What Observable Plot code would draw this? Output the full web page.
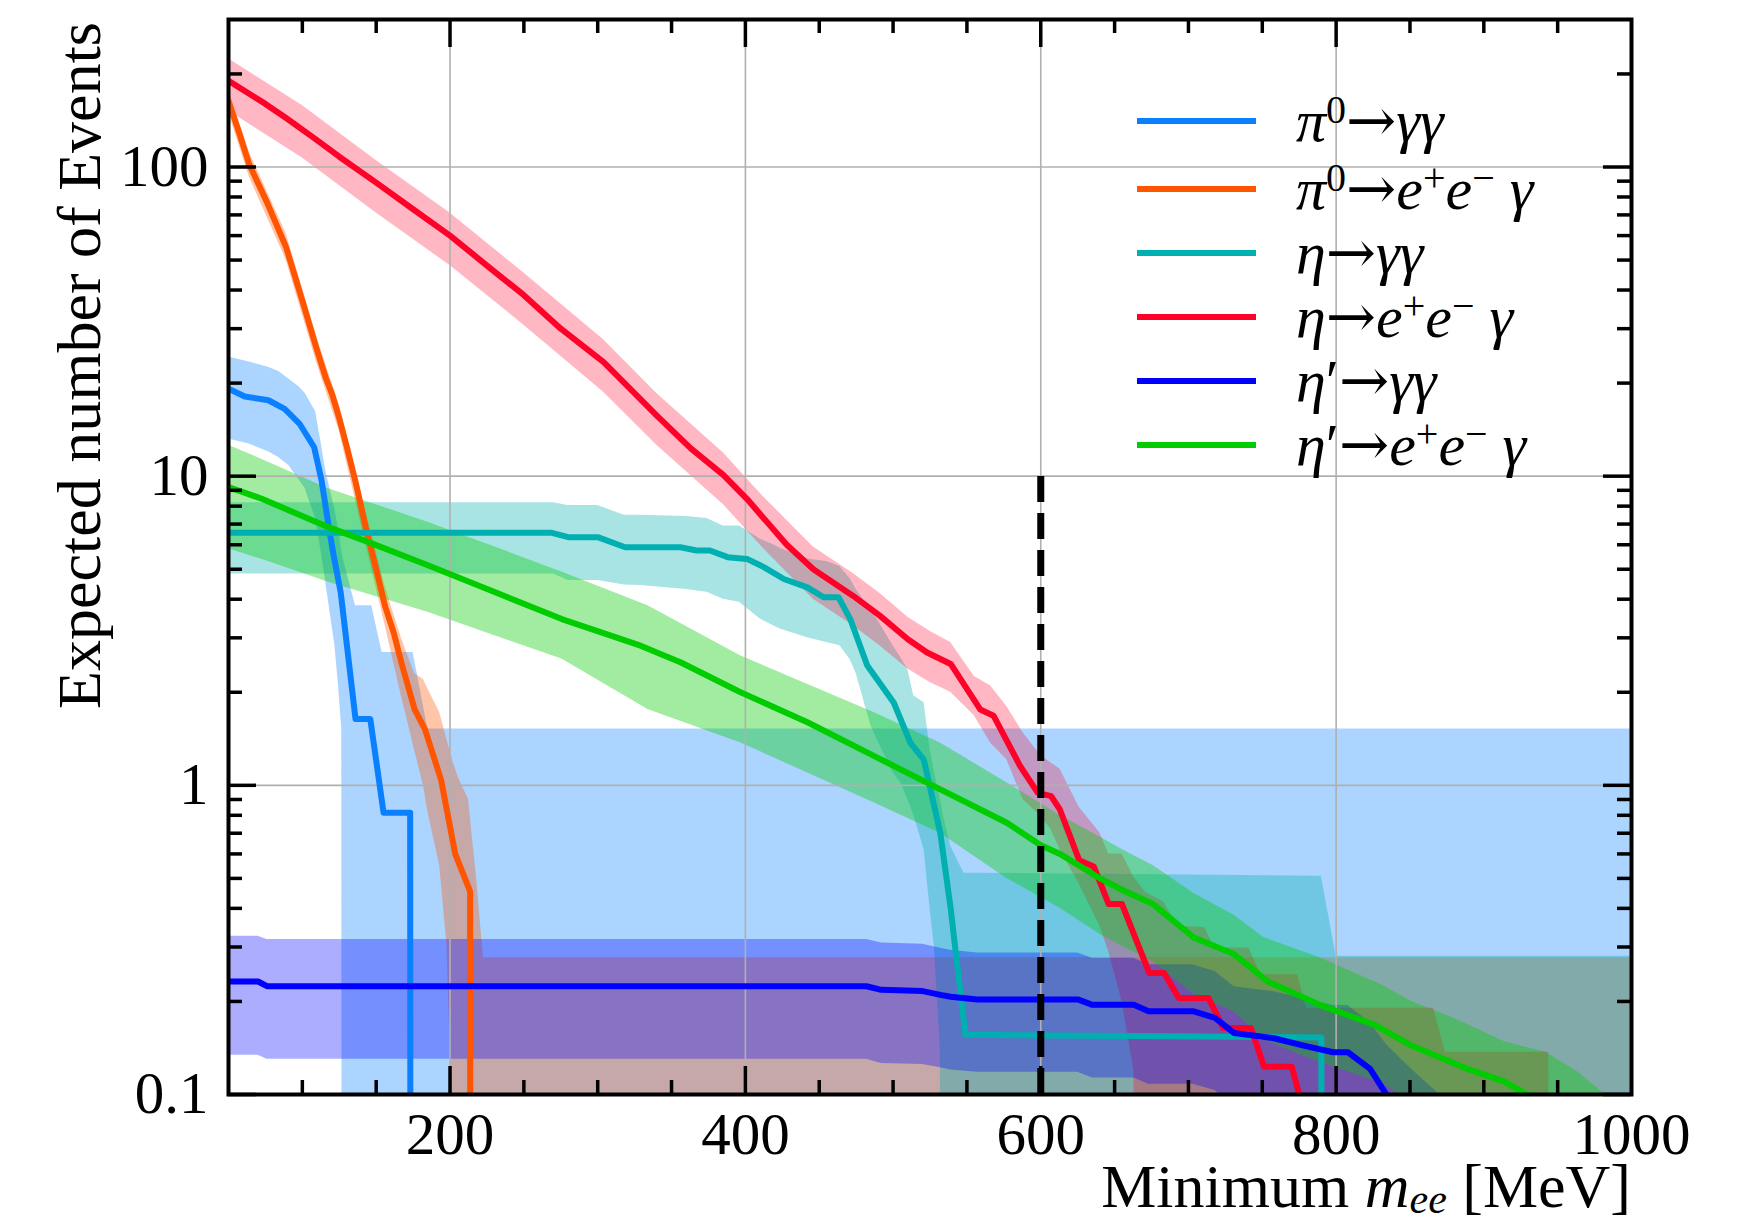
<!DOCTYPE html>
<html>
<head>
<meta charset="utf-8">
<script src="https://cdn.jsdelivr.net/npm/d3@7"></script>
<script src="https://cdn.jsdelivr.net/npm/@observablehq/plot@0.6"></script>
<style>
  html, body { margin: 0; padding: 0; background: #fff; }
  #chart { width: 1742px; height: 1224px; }
</style>
</head>
<body>
<div id="chart"></div>
<script>
// ---- Expected events vs. minimum m_ee cut (central value and uncertainty band per channel) ----

// pi0 -> gamma gamma
const pi0ggLineX = [50, 61, 77, 88, 98, 108, 113, 118, 121, 126, 136, 146, 155, 173, 173.5];
const pi0ggLineY = [19.2, 18.1, 17.6, 16.5, 14.8, 12.4, 9.7, 6.8, 5.6, 4.2, 1.64, 1.64, 0.815, 0.815, 0];
const pi0ggBandX = [50, 64, 77, 84, 91, 98, 102, 104, 109, 113, 115.5, 122, 124.5, 126.7, 127.2, 136, 147, 154, 175, 185, 1000];
const pi0ggBandLo = [13.2, 12.7, 12.0, 11.5, 10.8, 9.7, 9.1, 8.5, 7.3, 5.6, 4.65, 2.85, 2.1, 1.52, 0, 0, 0, 0, 0, 0, 0];
const pi0ggBandHi = [24.3, 23.4, 22.5, 21.8, 20.6, 19.4, 18.5, 17.8, 16.2, 12.6, 10.6, 7.8, 6.76, 5.7, 5.5, 3.81, 3.81, 2.69, 2.69, 1.52, 1.52];

// pi0 -> e+ e- gamma
const pi0eegLineX = [50, 57, 64, 76, 89, 100, 110, 116, 120, 125, 130, 136, 143, 150, 156, 162, 167, 176, 183, 194, 203.5, 213.6, 214];
const pi0eegLineY = [163, 130, 102, 77, 55, 37, 25.5, 20.7, 18.5, 15.4, 12.5, 9.6, 6.8, 5.0, 3.8, 3.1, 2.5, 1.76, 1.52, 1.04, 0.6, 0.454, 0];
const pi0eegBandX = [50, 64, 89, 110, 125, 143, 156, 167, 176, 182, 185, 193, 198, 201, 202, 206, 212.5, 218, 222.6, 1000];
const pi0eegBandLo = [150, 93, 50, 23, 14, 6.0, 3.3, 1.95, 1.3, 1.0, 0.82, 0.55, 0.3, 0.1, 0, 0, 0, 0, 0, 0];
const pi0eegBandHi = [178, 112, 61, 28, 17, 7.7, 4.4, 3.0, 2.3, 2.2, 2.05, 1.72, 1.4, 1.25, 1.19, 1.05, 0.9, 0.5, 0.277, 0.277];

// eta -> gamma gamma
const etaggLineX = [50, 269, 280, 300, 318.6, 356, 367, 376, 388, 401, 412.5, 426, 442, 453, 463, 471, 482.5, 500.5, 511.8, 520.8, 532, 539, 542, 549, 790, 790.5];
const etaggLineY = [6.56, 6.56, 6.35, 6.35, 5.89, 5.89, 5.75, 5.75, 5.47, 5.4, 5.08, 4.65, 4.37, 4.06, 4.06, 3.45, 2.44, 1.85, 1.37, 1.21, 0.70, 0.40, 0.30, 0.156, 0.153, 0];
const etaggBandX = [50, 270, 280, 300, 318, 329, 360, 374, 385, 396, 410, 419, 424, 442, 455, 464, 471, 475, 485, 490, 500, 505, 510, 514, 521, 525, 528, 532, 534, 539, 548, 790, 800, 1000];
const etaggBandLo = [4.83, 4.83, 4.6, 4.6, 4.45, 4.43, 4.3, 4.21, 4.0, 3.91, 3.45, 3.28, 3.2, 3.0, 2.9, 2.83, 2.55, 2.3, 1.56, 1.38, 1.1, 1.02, 0.9, 0.8, 0.62, 0.40, 0.30, 0.14, 0, 0, 0, 0, 0, 0];
const etaggBandHi = [8.2, 8.2, 8.04, 8.04, 7.47, 7.47, 7.4, 7.3, 6.9, 6.9, 6.26, 6.0, 5.83, 5.4, 5.3, 5.1, 4.65, 4.3, 3.7, 3.4, 2.83, 2.6, 2.37, 1.95, 1.85, 1.31, 1.1, 0.9, 0.8, 0.636, 0.52, 0.508, 0.28, 0.28];

// eta -> e+ e- gamma
const etaeegLineX = [50, 75, 89, 108, 125, 150, 175, 200, 225, 250, 275, 304, 340, 363, 385, 401, 412.5, 428, 446, 473, 491, 510, 523, 539, 559, 568, 586, 598, 607, 613, 626, 636, 646, 655, 673.5, 683.5, 693.5, 713.6, 723.6, 742.3, 751.2, 770, 775, 775.5];
const etaeegLineY = [190, 160, 144, 124, 108, 89, 73, 60, 48, 38.5, 30, 23.4, 15.7, 12.3, 10.1, 8.45, 7.3, 6.0, 5.0, 4.1, 3.54, 2.97, 2.69, 2.47, 1.76, 1.68, 1.155, 0.946, 0.923, 0.834, 0.573, 0.545, 0.413, 0.413, 0.247, 0.247, 0.205, 0.205, 0.164, 0.164, 0.123, 0.123, 0.1, 0];
const etaeegBandX = [50, 100, 150, 200, 250, 304, 340, 385, 412, 446, 473, 491, 510, 525, 539, 555, 566, 577, 588, 600, 607, 613, 626, 640, 646, 655, 663, 671, 683, 693, 711, 718, 741, 749, 774, 780, 866, 874, 944, 946];
const etaeegBandLo = [152, 107, 71, 48, 30.8, 18.7, 12.6, 8.1, 5.85, 4.0, 3.28, 2.83, 2.38, 2.15, 2.0, 1.68, 1.37, 1.21, 0.90, 0.795, 0.72, 0.62, 0.48, 0.35, 0.29, 0.2, 0.12, 0, 0, 0, 0, 0, 0, 0, 0, 0, 0, 0, 0, 0];
const etaeegBandHi = [224, 158, 105, 71, 45.4, 27.6, 18.5, 11.9, 8.6, 5.9, 4.84, 4.18, 3.5, 3.15, 2.9, 2.25, 2.1, 1.8, 1.48, 1.25, 1.18, 1.13, 0.85, 0.703, 0.60, 0.60, 0.505, 0.45, 0.42, 0.35, 0.347, 0.298, 0.298, 0.244, 0.244, 0.19, 0.19, 0.137, 0.137, 0];

// eta' -> gamma gamma
const etapggLineX = [50, 70, 76, 482, 492, 520, 532, 539, 557, 625, 635, 663, 673, 703, 718, 731, 758, 778, 798, 808, 823, 834, 850, 870];
const etapggLineY = [0.232, 0.232, 0.224, 0.224, 0.218, 0.216, 0.21, 0.207, 0.203, 0.203, 0.195, 0.195, 0.186, 0.186, 0.177, 0.158, 0.152, 0.144, 0.137, 0.137, 0.121, 0.1, 0.085, 0.07];
const etapggBandX = [50, 70, 76, 482, 492, 520, 532, 539, 557, 625, 635, 663, 673, 703, 718, 731, 758, 778, 798, 808, 823, 834, 850, 870, 871];
const etapggBandLo = [0.134, 0.134, 0.13, 0.13, 0.126, 0.125, 0.122, 0.12, 0.118, 0.118, 0.113, 0.113, 0.108, 0.108, 0.103, 0.092, 0.088, 0.084, 0.08, 0.08, 0.07, 0.058, 0.049, 0.04, 0];
const etapggBandHi = [0.325, 0.325, 0.317, 0.317, 0.309, 0.306, 0.297, 0.293, 0.287, 0.287, 0.276, 0.276, 0.263, 0.263, 0.25, 0.223, 0.215, 0.204, 0.194, 0.194, 0.171, 0.145, 0.122, 0.1, 0];

// eta' -> e+ e- gamma
const etapeegLineX = [50, 72.6, 117.7, 144.8, 185.4, 230.6, 275.7, 329, 356, 396.7, 442, 487, 532, 577, 600, 613, 638.5, 656, 676, 703.6, 731, 753.7, 788.8, 826, 851, 889, 914, 929, 946, 946.5];
const etapeegLineY = [9.22, 8.45, 6.84, 6.12, 5.14, 4.21, 3.45, 2.83, 2.5, 2.0, 1.6, 1.245, 0.97, 0.757, 0.64, 0.60, 0.505, 0.457, 0.413, 0.322, 0.284, 0.232, 0.195, 0.168, 0.144, 0.121, 0.11, 0.1, 0.095, 0];
const etapeegBandX = [50, 77, 117.7, 185, 275.7, 334, 397, 487, 532, 577, 613, 640, 656, 676, 704, 731, 751, 789, 831, 851, 879, 914, 942, 964, 982, 982.5];
const etapeegBandLo = [5.82, 5.3, 4.54, 3.63, 2.56, 1.76, 1.37, 0.879, 0.70, 0.5, 0.40, 0.33, 0.3, 0.27, 0.21, 0.185, 0.15, 0.127, 0.109, 0.094, 0.085, 0.075, 0.065, 0.06, 0.055, 0];
const etapeegBandHi = [12.6, 11.1, 9.1, 7.1, 4.9, 3.81, 2.62, 1.72, 1.37, 1.02, 0.80, 0.68, 0.617, 0.55, 0.446, 0.38, 0.322, 0.277, 0.226, 0.2, 0.177, 0.148, 0.137, 0.118, 0.1, 0];

// Channel names (as legend parts: [text, style]) and colours, in drawing order
const channelLabels = [
  [["π", "i"], ["0", "sup"], ["→", "arrow"], ["γγ", "i"]],
  [["π", "i"], ["0", "sup"], ["→", "arrow"], ["e", "i"], ["+", "sup"], ["e", "i"], ["−", "sup"], [" γ", "i"]],
  [["η", "i"], ["→", "arrow"], ["γγ", "i"]],
  [["η", "i"], ["→", "arrow"], ["e", "i"], ["+", "sup"], ["e", "i"], ["−", "sup"], [" γ", "i"]],
  [["η", "i"], ["′", "r"], ["→", "arrow"], ["γγ", "i"]],
  [["η", "i"], ["′", "r"], ["→", "arrow"], ["e", "i"], ["+", "sup"], ["e", "i"], ["−", "sup"], [" γ", "i"]]
];
const channelColors = ["#0a80ff", "#ff5500", "#00b0b0", "#ff0028", "#0000ff", "#00cc00"];
const bandOpacity = [0.34, 0.34, 0.34, 0.28, 0.32, 0.37];

// Cut value marked on the plot
const cutValue = 600;
const cutTop = 10;

// Axis ticks
const xMajorTicks = [200, 400, 600, 800];
const xMinorTicks = [100, 150, 250, 300, 350, 450, 500, 550, 650, 700, 750, 850, 900, 950];
const xTickLabels = [200, 400, 600, 800, 1000];
const yMajorTicks = [0.1, 1, 10, 100];
const yMinorTicks = [0.2, 0.3, 0.4, 0.5, 0.6, 0.7, 0.8, 0.9, 2, 3, 4, 5, 6, 7, 8, 9, 20, 30, 40, 50, 60, 70, 80, 90, 200];

// ---- build tables ----
const lineTable = (X, Y) => X.map((x, i) => ({x, y: Y[i]}));
const bandTable = (X, L, H) => X.map((x, i) => ({x, lo: L[i], hi: H[i]}));

const lines = [
  lineTable(pi0ggLineX, pi0ggLineY),
  lineTable(pi0eegLineX, pi0eegLineY),
  lineTable(etaggLineX, etaggLineY),
  lineTable(etaeegLineX, etaeegLineY),
  lineTable(etapggLineX, etapggLineY),
  lineTable(etapeegLineX, etapeegLineY)
];
const bands = [
  bandTable(pi0ggBandX, pi0ggBandLo, pi0ggBandHi),
  bandTable(pi0eegBandX, pi0eegBandLo, pi0eegBandHi),
  bandTable(etaggBandX, etaggBandLo, etaggBandHi),
  bandTable(etaeegBandX, etaeegBandLo, etaeegBandHi),
  bandTable(etapggBandX, etapggBandLo, etapggBandHi),
  bandTable(etapeegBandX, etapeegBandLo, etapeegBandHi)
];

// zero counts fall off the bottom of the log axis
const FLOOR = 1e-4;
const lift = v => Math.max(v, FLOOR);

const W = 1742, H = 1224;
const mL = 228, mR = 111, mT = 19, mB = 130;
const plotW = W - mL - mR, plotH = H - mT - mB;
const SERIF = "'Liberation Serif', 'Times New Roman', serif";

const major = 28, minor = 14;
const tickStyle = {stroke: "black", strokeWidth: 3.5};

const chart = Plot.plot({
  width: W,
  height: H,
  marginLeft: mL, marginRight: mR, marginTop: mT, marginBottom: mB,
  style: {fontFamily: SERIF, fontSize: "59px", background: "white", color: "black"},
  x: {type: "linear", domain: [50, 1000]},
  y: {type: "log", domain: [0.1, 300]},
  marks: [
    // uncertainty bands
    ...bands.map((b, i) => Plot.areaY(b, {
      x: "x", y1: d => lift(d.lo), y2: d => lift(d.hi),
      fill: channelColors[i], fillOpacity: bandOpacity[i], curve: "linear", clip: true
    })),
    // grid
    Plot.ruleX(xMajorTicks, {stroke: "#b0b0b0", strokeWidth: 1.6}),
    Plot.ruleY([1, 10, 100], {stroke: "#b0b0b0", strokeWidth: 1.6}),
    // central values
    ...lines.map((l, i) => Plot.line(l, {
      x: "x", y: d => lift(d.y),
      stroke: channelColors[i], strokeWidth: 6, strokeLinejoin: "round", clip: true
    })),
    // chosen cut
    Plot.ruleX([cutValue], {y1: 0.1, y2: cutTop, stroke: "black", strokeWidth: 7, strokeDasharray: "26 11"}),
    // inward ticks on all four sides
    Plot.ruleX(xMajorTicks, {...tickStyle, insetTop: plotH - major}),
    Plot.ruleX(xMinorTicks, {...tickStyle, insetTop: plotH - minor}),
    Plot.ruleX(xMajorTicks, {...tickStyle, insetBottom: plotH - major}),
    Plot.ruleX(xMinorTicks, {...tickStyle, insetBottom: plotH - minor}),
    Plot.ruleY(yMajorTicks, {...tickStyle, insetRight: plotW - major}),
    Plot.ruleY(yMinorTicks, {...tickStyle, insetRight: plotW - minor}),
    Plot.ruleY(yMajorTicks, {...tickStyle, insetLeft: plotW - major}),
    Plot.ruleY(yMinorTicks, {...tickStyle, insetLeft: plotW - minor}),
    Plot.frame({stroke: "black", strokeWidth: 4}),
    // tick labels
    Plot.axisX(xTickLabels, {tickSize: 0, tickPadding: 18, fontSize: 59, fontFamily: SERIF, label: null, tickFormat: d => String(d)}),
    Plot.axisY(yMajorTicks, {tickSize: 0, tickPadding: 20, fontSize: 59, fontFamily: SERIF, label: null, tickFormat: d => String(d)})
  ]
});

document.getElementById("chart").appendChild(chart);

// ---- axis titles and legend ----
const svg = d3.select(chart);

// x title: Minimum m_ee [MeV]
const xt = svg.append("text")
  .attr("x", W - mR).attr("y", 1207)
  .attr("text-anchor", "end")
  .attr("font-family", SERIF).attr("font-size", 62).attr("fill", "black");
xt.append("tspan").text("Minimum ");
xt.append("tspan").attr("font-style", "italic").text("m");
xt.append("tspan").attr("font-style", "italic").attr("font-size", 42).attr("dy", 6).text("ee");
xt.append("tspan").attr("dy", -6).text(" [MeV]");

// y title
svg.append("text")
  .attr("transform", `translate(100, ${mT + 3}) rotate(-90)`)
  .attr("text-anchor", "end")
  .attr("font-family", SERIF).attr("font-size", 62).attr("fill", "black")
  .text("Expected number of Events");

// legend
const legendRowY = [121, 189, 253, 317, 381, 445];
const leg = svg.append("g")
  .attr("font-family", SERIF).attr("font-size", 60).attr("fill", "black")
  .attr("text-anchor", "start");
const partShift = {sup: -18};
const partSize = {sup: 40};
channelLabels.forEach((parts, i) => {
  const y = legendRowY[i];
  leg.append("line")
    .attr("x1", 1137).attr("x2", 1256).attr("y1", y).attr("y2", y)
    .attr("stroke", channelColors[i]).attr("stroke-width", 6);
  const t = leg.append("text").attr("x", 1296).attr("y", y + 20).attr("text-anchor", "start");
  let shift = 0;
  parts.forEach(([s, kind]) => {
    const target = partShift[kind] || 0;
    const ts = t.append("tspan").text(s).attr("dy", target - shift);
    shift = target;
    if (kind === "i") ts.attr("font-style", "italic");
    if (partSize[kind]) ts.attr("font-size", partSize[kind]);
    if (kind === "arrow") ts.attr("font-family", "'DejaVu Serif', serif");
  });
});
</script>
</body>
</html>
